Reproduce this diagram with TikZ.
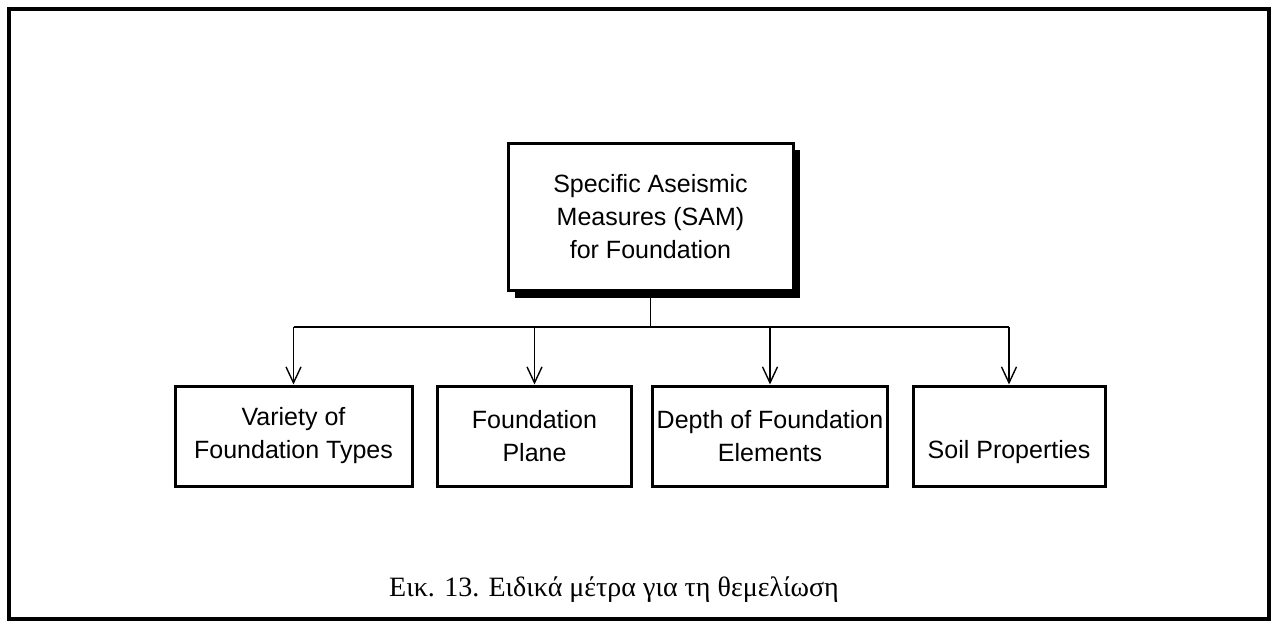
\documentclass[tikz,border=0pt]{standalone}
\usepackage{fontspec}
\setmainfont{Liberation Sans}
\newfontfamily\captionfont{Liberation Serif}
\usetikzlibrary{arrows.meta}
\begin{document}
\begin{tikzpicture}[x=1pt,y=-1pt,
  box/.style={draw=black,line width=3pt,fill=white,align=center,
    font=\fontsize{25}{33}\selectfont,inner sep=0pt},
  leaf/.style={box,minimum height=100pt},
  link/.style={line width=1.4pt},
  feed/.style={link,-{Straight Barb[length=16pt,width=15pt,line width=1.4pt]}}]
  \useasboundingbox (0,0) rectangle (1274,626);
  % outer frame
  \draw[line width=4pt] (9,9) rectangle (1269,619);

  % top box with drop shadow
  \fill (515,150) rectangle (800,298);
  \node[box,minimum width=285pt,minimum height=147pt] (sam) at (650.5,216.5)
    {Specific Aseismic\\Measures (SAM)\\for Foundation};

  % lower boxes
  \node[leaf,minimum width=237pt] (v) at (293.5,436) {Variety of\\Foundation Types};
  \node[leaf,minimum width=194pt] (p) at (534.5,436) {Foundation\\Plane};
  \node[leaf,minimum width=235pt] (d) at (770,436) {Depth of Foundation\\Elements};
  \node[leaf,minimum width=192pt] (s) at (1009,436) {\vphantom{Ag}\\Soil Properties};

  % tree connectors
  \coordinate (j) at (sam.south |- 0,327);
  \draw[link] (sam.south) -- (j);
  \draw[link] (v.north |- j) -- (s.north |- j);
  \foreach \n in {v,p,d,s}
    \draw[feed] (\n.north |- j) -- (\n.north);

  % caption
  \node[font=\captionfont\fontsize{28}{32}\selectfont,anchor=base] (cap) at (614,596)
    {Εικ. 13. Ειδικά μέτρα για τη θεμελίωση};
\end{tikzpicture}
\end{document}
